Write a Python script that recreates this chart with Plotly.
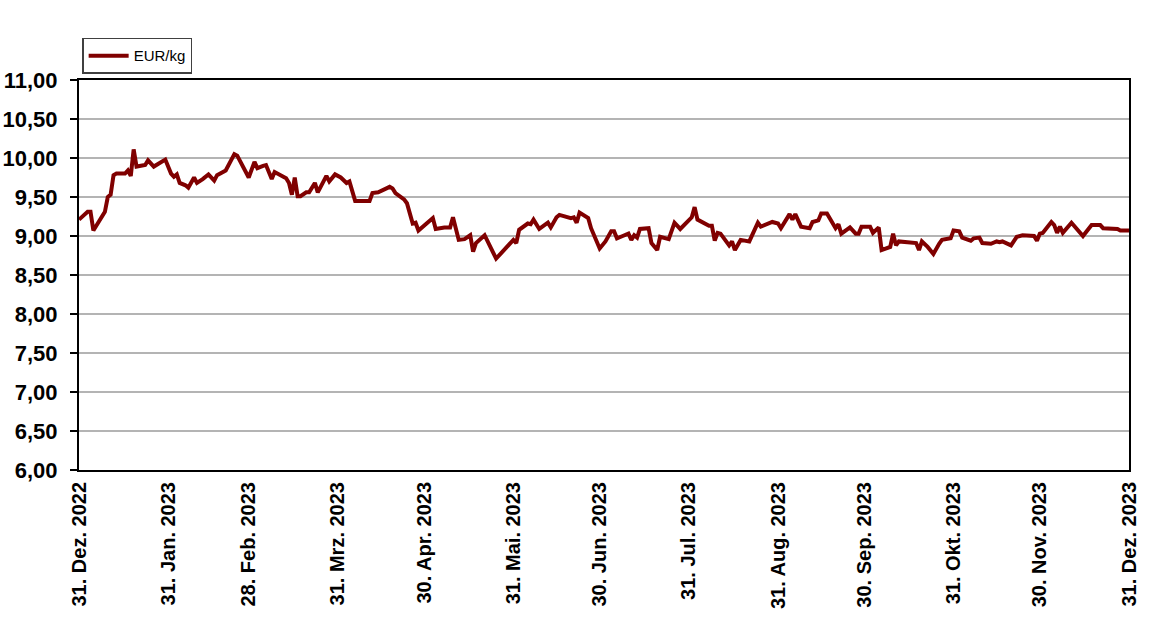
import pandas as pd
import plotly.graph_objects as go

# Day offsets from 31 Dec 2022 and price values (EUR/kg)
days = [0, 3, 4, 5, 9, 10, 11, 12, 13, 16, 17, 18, 19, 20, 23, 24, 26, 30, 32, 33, 34, 35,
        37, 38, 40, 41, 43, 45, 47, 48, 51, 54, 55, 59, 61, 62, 64, 65, 67, 68, 72, 73, 74,
        75, 76, 77, 79, 80, 82, 83, 86, 87, 89, 91, 93, 94, 96, 101, 102, 104, 108, 109, 110,
        113, 114, 116, 117, 118, 123, 124, 127, 129, 130, 132, 134, 136, 137, 138, 141, 143,
        145, 151, 152, 153, 156, 157, 158, 160, 163, 164, 166, 167, 171, 172, 173, 174, 177,
        178, 181, 183, 185, 186, 187, 189, 191, 192, 193, 194, 195, 198, 199, 201, 202, 205,
        207, 209, 213, 214, 215, 219, 220, 221, 222, 223, 226, 227, 228, 230, 233, 236, 237,
        241, 243, 244, 247, 248, 249, 251, 252, 254, 255, 257, 258, 260, 263, 264, 265, 268,
        270, 271, 272, 275, 276, 278, 279, 282, 283, 284, 285, 289, 291, 292, 293, 295, 297,
        299, 300, 303, 304, 306, 307, 310, 311, 313, 314, 317, 319, 320, 321, 324, 326, 328,
        332, 333, 334, 335, 338, 339, 340, 341, 342, 345, 349, 352, 355, 356, 361, 362, 365]

prices = [9.21, 9.31, 9.31, 9.07, 9.31, 9.50, 9.53, 9.78, 9.80, 9.80, 9.84, 9.77, 10.11, 9.89,
          9.91, 9.97, 9.89, 9.98, 9.80, 9.76, 9.79, 9.68, 9.65, 9.62, 9.75, 9.68, 9.73, 9.79,
          9.71, 9.78, 9.84, 10.05, 10.03, 9.75, 9.95, 9.87, 9.90, 9.91, 9.73, 9.82, 9.74, 9.68,
          9.53, 9.75, 9.51, 9.51, 9.56, 9.56, 9.68, 9.56, 9.77, 9.70, 9.79, 9.75, 9.68, 9.70,
          9.45, 9.45, 9.55, 9.56, 9.63, 9.61, 9.55, 9.47, 9.42, 9.16, 9.17, 9.07, 9.23, 9.09,
          9.11, 9.11, 9.24, 8.95, 8.96, 9.01, 8.80, 8.91, 9.01, 8.86, 8.71, 8.95, 8.91, 9.08,
          9.16, 9.15, 9.21, 9.09, 9.17, 9.11, 9.24, 9.27, 9.23, 9.24, 9.17, 9.30, 9.23, 9.10,
          8.84, 8.93, 9.06, 9.06, 8.97, 9.00, 9.03, 8.95, 9.01, 8.98, 9.09, 9.10, 8.91, 8.82,
          8.99, 8.96, 9.17, 9.09, 9.24, 9.37, 9.21, 9.13, 9.13, 8.94, 9.04, 9.03, 8.88, 8.93,
          8.82, 8.95, 8.93, 9.17, 9.12, 9.18, 9.16, 9.10, 9.28, 9.21, 9.28, 9.12, 9.11, 9.10,
          9.18, 9.20, 9.29, 9.29, 9.10, 9.15, 9.03, 9.11, 9.03, 9.03, 9.12, 9.12, 9.04, 9.11,
          8.82, 8.86, 9.03, 8.88, 8.93, 8.92, 8.91, 8.82, 8.93, 8.86, 8.77, 8.90, 8.95, 8.97,
          9.07, 9.06, 8.98, 8.94, 8.97, 8.98, 8.91, 8.90, 8.93, 8.92, 8.93, 8.88, 8.99, 9.01,
          9.00, 8.94, 9.03, 9.04, 9.18, 9.14, 9.04, 9.12, 9.04, 9.17, 9.00, 9.14, 9.14, 9.10,
          9.09, 9.07, 9.07]

tick_dates = ["2022-12-31", "2023-01-31", "2023-02-28", "2023-03-31", "2023-04-30",
              "2023-05-31", "2023-06-30", "2023-07-31", "2023-08-31", "2023-09-30",
              "2023-10-31", "2023-11-30", "2023-12-31"]
tick_labels = ["31. Dez. 2022", "31. Jan. 2023", "28. Feb. 2023", "31. Mrz. 2023",
               "30. Apr. 2023", "31. Mai. 2023", "30. Jun. 2023", "31. Jul. 2023",
               "31. Aug. 2023", "30. Sep. 2023", "31. Okt. 2023", "30. Nov. 2023",
               "31. Dez. 2023"]
series_name = "EUR/kg"

dates = pd.Timestamp("2022-12-31") + pd.to_timedelta(days, unit="D")

fig = go.Figure()
fig.add_trace(go.Scatter(
    x=dates, y=prices, mode="lines", name=series_name,
    line=dict(color="#800000", width=4),
))

fig.update_layout(
    width=1157, height=637,
    margin=dict(l=79, r=28, t=80, b=167, autoexpand=False),
    paper_bgcolor="white", plot_bgcolor="white",
    separators=",.",
    showlegend=True,
    legend=dict(
        x=0.003, y=1.108, xanchor="left", yanchor="top",
        bgcolor="white", bordercolor="#404040", borderwidth=1.5,
        font=dict(family="Liberation Sans, Arial", size=15, color="#000000"),
        itemwidth=40, tracegroupgap=0,
    ),
    font=dict(family="Liberation Sans, Arial", color="black"),
)

fig.update_xaxes(
    range=[pd.Timestamp("2022-12-31"), pd.Timestamp("2023-12-31")],
    tickmode="array",
    tickvals=pd.to_datetime(tick_dates),
    ticktext=["<b>" + t + "</b>" for t in tick_labels],
    tickangle=-90,
    tickfont=dict(family="Liberation Sans, Arial", size=20, color="black"),
    showgrid=False,
    showline=True, linecolor="black", linewidth=2, mirror=True,
    ticks="",
    ticklabelstandoff=2,
    zeroline=False,
    automargin=False,
)

fig.update_yaxes(
    range=[6, 11],
    tick0=6, dtick=0.5,
    tickformat=".2f",
    tickprefix="<b>", ticksuffix="</b>",
    tickfont=dict(family="Liberation Sans, Arial", size=22, color="black"),
    showgrid=True, gridcolor="#B4B4B4", gridwidth=2,
    showline=True, linecolor="black", linewidth=2, mirror=True,
    ticks="outside", ticklen=7, tickcolor="black", tickwidth=1.5,
    ticklabelstandoff=8,
    zeroline=False,
    automargin=False,
)

fig.write_html("out.html", config={"displayModeBar": False},
               post_script="document.body.style.margin='0';")
